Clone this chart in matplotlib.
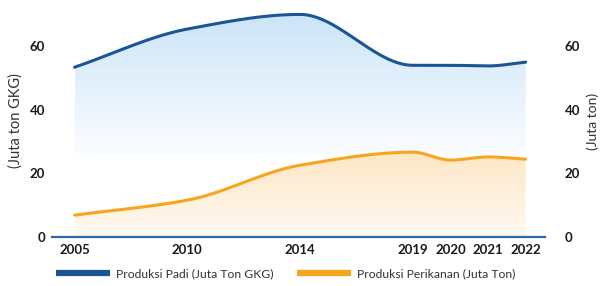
import numpy as np
import matplotlib
matplotlib.use("Agg")
import matplotlib.pyplot as plt
from matplotlib.patches import Polygon
from matplotlib.colors import LinearSegmentedColormap

years = ["2005", "2010", "2014", "2019", "2020", "2021", "2022"]
padi = [53.4, 65.4, 70.0, 54.0, 54.0, 53.8, 55.0]
perikanan = [6.9, 11.6, 22.6, 26.7, 24.2, 25.2, 24.5]

# uneven spacing like the original: big gaps up to 2019, then tight
xpos = np.array([0, 1, 2, 3, 3 + 1/3, 3 + 2/3, 4])

blue = "#1b5593"
orange = "#f7a51f"

plt.rcParams['font.family'] = ['Lato', 'DejaVu Sans']


def smooth(x, y, n=400):
    # monotone cubic (Fritsch-Carlson) just for drawing the curve
    x = np.asarray(x, float)
    y = np.asarray(y, float)
    h = np.diff(x)
    d = np.diff(y) / h
    m = np.zeros_like(y)
    m[0], m[-1] = d[0], d[-1]
    for i in range(1, len(y) - 1):
        if d[i - 1] * d[i] <= 0:
            m[i] = 0
        else:
            w1 = 2 * h[i] + h[i - 1]
            w2 = h[i] + 2 * h[i - 1]
            m[i] = (w1 + w2) / (w1 / d[i - 1] + w2 / d[i])
    xs = np.linspace(x[0], x[-1], n)
    k = np.clip(np.searchsorted(x, xs) - 1, 0, len(x) - 2)
    t = (xs - x[k]) / h[k]
    h00 = 2 * t**3 - 3 * t**2 + 1
    h10 = t**3 - 2 * t**2 + t
    h01 = -2 * t**3 + 3 * t**2
    h11 = t**3 - t**2
    ys = h00 * y[k] + h10 * h[k] * m[k] + h01 * y[k + 1] + h11 * h[k] * m[k + 1]
    return xs, ys


fig = plt.figure(figsize=(6.02, 2.86), dpi=100)
ax = fig.add_axes([0.0864, 0.171, 0.8186, 0.812])
ax.set_xlim(-0.2, 4.17)
ax.set_ylim(0, 73)


def gradient_fill(xs, ys, c_top, c_bot, y_top, y_bot, z):
    cmap = LinearSegmentedColormap.from_list("g", [c_bot, c_top])
    grad = np.linspace(0, 1, 256).reshape(-1, 1)
    img = ax.imshow(grad, cmap=cmap, aspect="auto", origin="lower",
                    extent=[xs[0], xs[-1], y_bot, y_top], zorder=z)
    verts = np.column_stack([np.r_[xs[0], xs, xs[-1]], np.r_[0, ys, 0]])
    poly = Polygon(verts, closed=True, facecolor="none", edgecolor="none",
                   transform=ax.transData)
    ax.add_patch(poly)
    img.set_clip_path(poly)

bx, by = smooth(xpos, padi)
ox, oy = smooth(xpos, perikanan)

gradient_fill(bx, by, "#c9e3f8", "#fbfdff", 72, 26, 1)
gradient_fill(ox, oy, "#fde6c4", "#fffaf2", 27, 0, 2)

ax.plot(bx, by, color=blue, lw=2.2, zorder=4, solid_capstyle="round",
        label="Produksi Padi (Juta Ton GKG)")
ax.plot(ox, oy, color=orange, lw=2.2, zorder=4, solid_capstyle="round",
        label="Produksi Perikanan (Juta Ton)")

ax.set_xticks(xpos)
ax.set_xticklabels(years)
ax.set_yticks([0, 20, 40, 60])

for s in ["top", "right", "left"]:
    ax.spines[s].set_visible(False)
ax.spines["bottom"].set_color("#2b6aa8")
ax.spines["bottom"].set_linewidth(1.6)
ax.tick_params(axis="x", length=0, pad=5, labelsize=9.5, labelcolor="#1a1a1a")
ax.tick_params(axis="y", length=0, pad=5, labelsize=9.5, labelcolor="#1a1a1a")
for lab in ax.get_xticklabels() + ax.get_yticklabels():
    lab.set_fontweight("bold")
ax.set_ylabel("(Juta ton GKG)", fontsize=10.5, color="#333333")
ax.yaxis.set_label_coords(-0.059, 0.5)

ax2 = ax.twinx()
ax2.set_ylim(0, 73)
ax2.set_yticks([0, 20, 40, 60])
for s in ["top", "right", "left", "bottom"]:
    ax2.spines[s].set_visible(False)
ax2.tick_params(axis="y", length=0, pad=14.5, labelsize=9.5, labelcolor="#1a1a1a")
for lab in ax2.get_yticklabels():
    lab.set_fontweight("bold")
ax2.set_ylabel("(Juta ton)", fontsize=10, color="#333333")
ax2.yaxis.set_label_coords(1.084, 0.5)

leg = fig.legend(*ax.get_legend_handles_labels(), loc="lower left",
                 bbox_to_anchor=(0.075, -0.015), ncol=2, frameon=False,
                 fontsize=8.7, handlelength=4.5, handletextpad=0.5,
                 columnspacing=1.9)
for line in leg.get_lines():
    line.set_linewidth(4.5)
    line.set_solid_capstyle("butt")
for t in leg.get_texts():
    t.set_color("#333333")

fig.savefig("out.png", dpi=100)
